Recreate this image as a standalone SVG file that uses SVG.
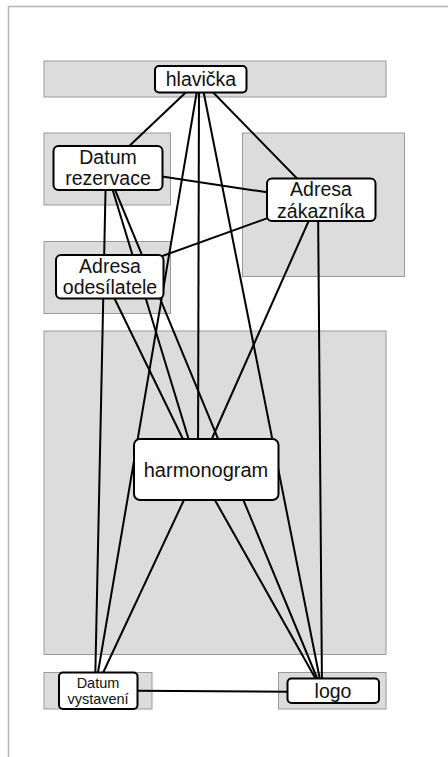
<svg xmlns="http://www.w3.org/2000/svg" width="448" height="757" viewBox="0 0 448 757">
  <style>
    .frame { fill: none; stroke: #b4b4b4; stroke-width: 1.5; }
    .zone { fill: #dcdcdc; stroke: #9a9a9a; stroke-width: 1; }
    .node { fill: #ffffff; stroke: #000000; stroke-width: 2; }
    .edge { stroke: #000000; stroke-width: 2; fill: none; }
    .lbl { font-family: "Liberation Sans", Arial, sans-serif; font-size: 19.5px; fill: #111111; text-anchor: middle; }
    .sm { font-size: 14.5px; }
    .lg { font-size: 20px; }
  </style>

  <rect width="448" height="757" fill="#fefefe"/>
  <!-- page frame: top and left rule -->
  <path class="frame" d="M8.5,757 V6.5 H448"/>

  <!-- layout zones -->
  <g id="zones">
    <rect class="zone" x="44" y="61" width="342" height="36"/>
    <rect class="zone" x="44" y="133" width="126.5" height="72"/>
    <rect class="zone" x="242.5" y="133" width="162" height="143.5"/>
    <rect class="zone" x="44" y="241.5" width="126.5" height="72"/>
    <rect class="zone" x="44" y="331" width="342" height="323.5"/>
    <rect class="zone" x="44" y="672.5" width="108" height="36.5"/>
    <rect class="zone" x="278.5" y="672.5" width="107.5" height="36.5"/>
  </g>

  <!-- connectors between node centres -->
  <g id="connectors">
    <line class="edge" x1="200" y1="79" x2="106" y2="168"/>
    <line class="edge" x1="200" y1="79" x2="318" y2="200"/>
    <line class="edge" x1="199" y1="79" x2="198" y2="470"/>
    <line class="edge" x1="199" y1="79" x2="95" y2="690"/>
    <line class="edge" x1="201" y1="79" x2="322" y2="690"/>
    <line class="edge" x1="106" y1="168" x2="318" y2="200"/>
    <line class="edge" x1="106" y1="168" x2="95" y2="690"/>
    <line class="edge" x1="106" y1="168" x2="198" y2="470"/>
    <line class="edge" x1="106" y1="168" x2="322" y2="690"/>
    <line class="edge" x1="104" y1="277" x2="318" y2="200"/>
    <line class="edge" x1="104" y1="277" x2="198" y2="470"/>
    <line class="edge" x1="318" y1="200" x2="198" y2="470"/>
    <line class="edge" x1="318" y1="200" x2="322" y2="690"/>
    <line class="edge" x1="198" y1="470" x2="95" y2="690"/>
    <line class="edge" x1="198" y1="470" x2="322" y2="690"/>
    <line class="edge" x1="95" y1="690.5" x2="322" y2="692"/>
  </g>

  <g id="hlavicka">
    <rect class="node" x="155" y="66" width="91.5" height="26.5" rx="4"/>
    <text class="lbl" x="201" y="86">hlavička</text>
  </g>

  <g id="datum-rezervace">
    <rect class="node" x="53.5" y="146" width="109" height="44" rx="5"/>
    <text class="lbl" x="108" y="163.5">Datum</text>
    <text class="lbl" x="108" y="185">rezervace</text>
  </g>

  <g id="adresa-zakaznika">
    <rect class="node" x="267" y="178.5" width="108.5" height="42.5" rx="5"/>
    <text class="lbl" x="321" y="196">Adresa</text>
    <text class="lbl" x="321" y="217.5">zákazníka</text>
  </g>

  <g id="adresa-odesilatele">
    <rect class="node" x="56" y="255" width="107.5" height="43.5" rx="5"/>
    <text class="lbl" x="110" y="272.5">Adresa</text>
    <text class="lbl" x="110" y="294">odesílatele</text>
  </g>

  <g id="harmonogram">
    <rect class="node" x="134" y="439" width="144.5" height="61" rx="6"/>
    <text class="lbl lg" x="206" y="476.5">harmonogram</text>
  </g>

  <g id="datum-vystaveni">
    <rect class="node" x="59" y="672.5" width="78.5" height="36.5" rx="4"/>
    <text class="lbl sm" x="98" y="687.5">Datum</text>
    <text class="lbl sm" x="98" y="704">vystavení</text>
  </g>

  <g id="logo">
    <rect class="node" x="287.5" y="678.5" width="91.5" height="24.5" rx="4"/>
    <text class="lbl" x="333" y="697.5">logo</text>
  </g>
</svg>
